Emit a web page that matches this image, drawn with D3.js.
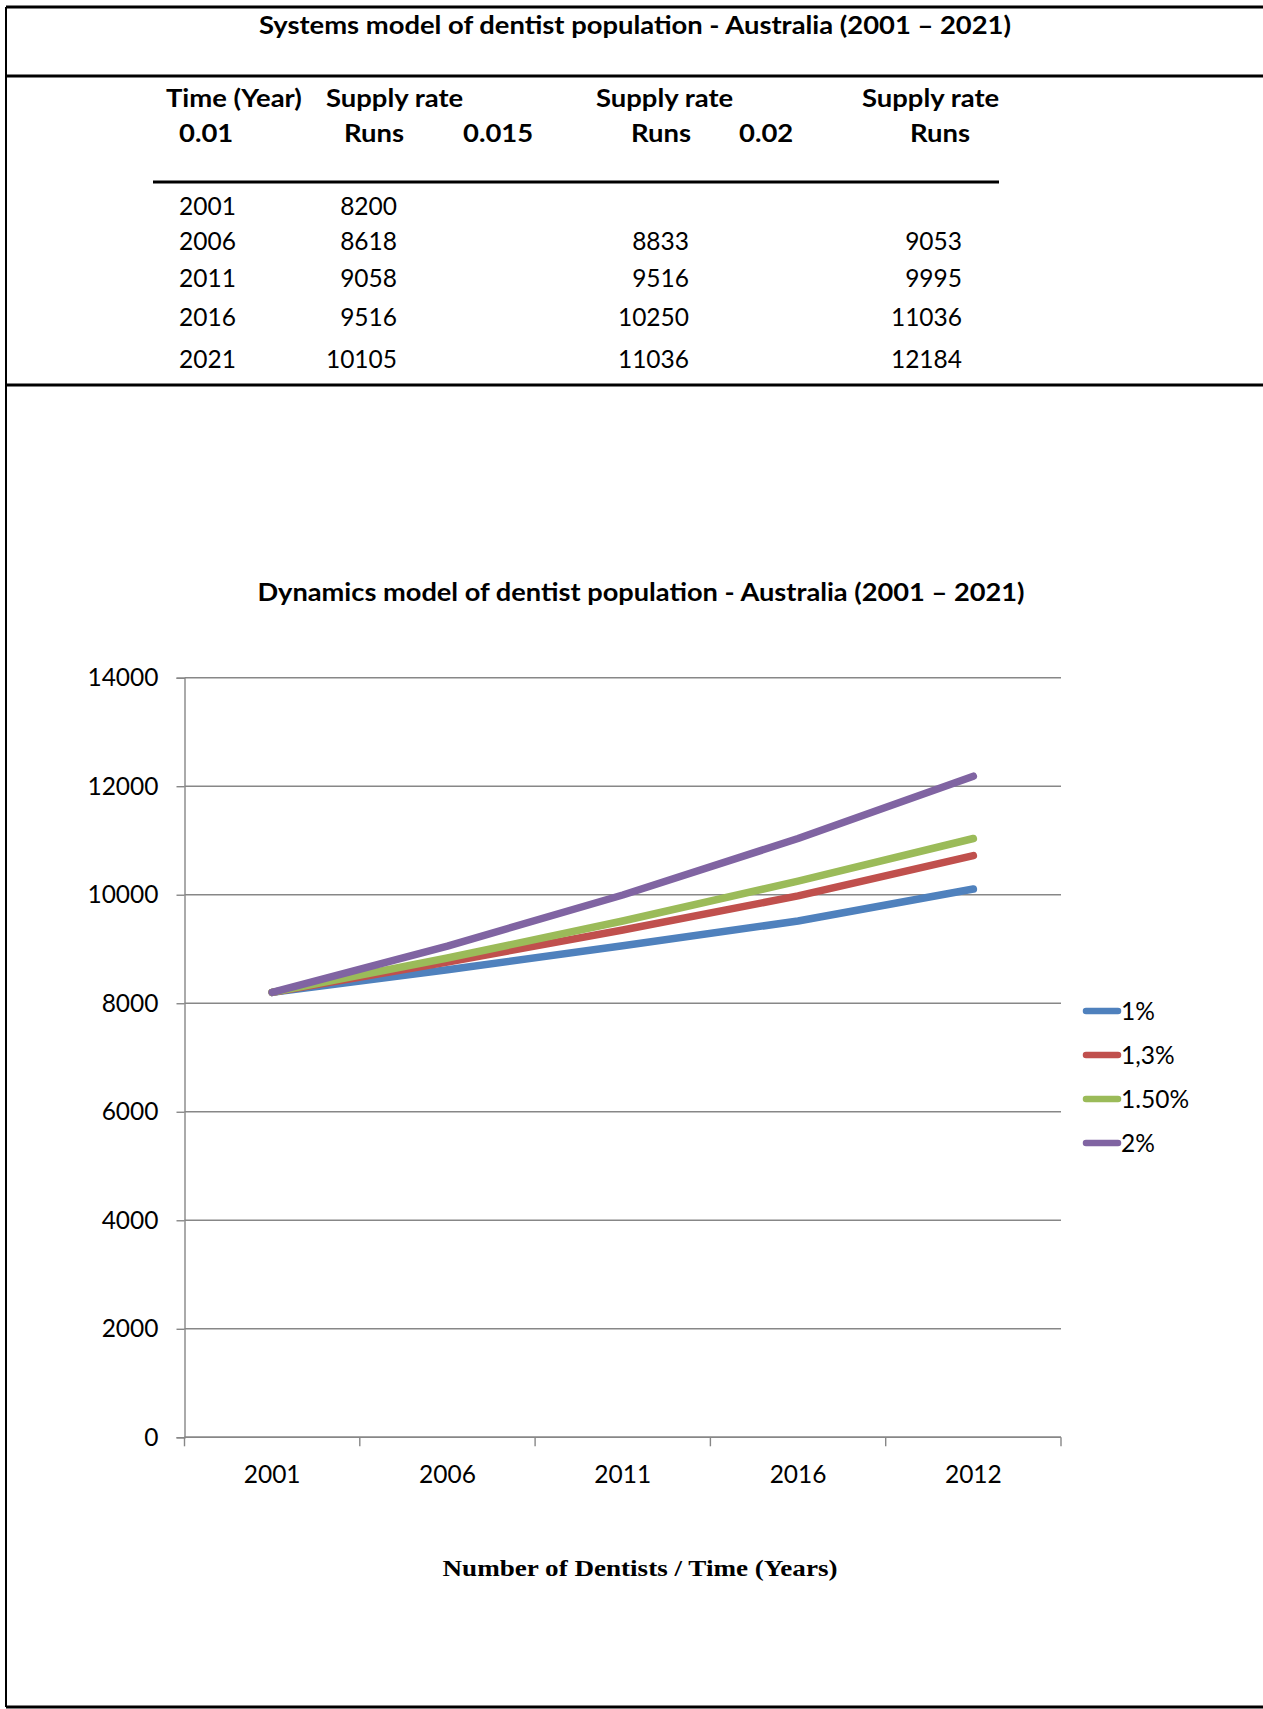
<!DOCTYPE html>
<html>
<head>
<meta charset="utf-8">
<script src="https://cdn.jsdelivr.net/npm/d3@7"></script>
<style>
  html, body { margin: 0; padding: 0; background: #fff; }
  svg { display: block; }
  .sans { font-family: Lato, "Open Sans", sans-serif; }
  .serif { font-family: "Liberation Serif", "DejaVu Serif", serif; }
</style>
</head>
<body>
<svg id="page" width="1263" height="1709"></svg>
<script>
// ---- Table data (systems model) ----
const tableYears = [2001, 2006, 2011, 2016, 2021];
const runs010 = [8200, 8618, 9058, 9516, 10105];
const runs015 = [null, 8833, 9516, 10250, 11036];
const runs020 = [null, 9053, 9995, 11036, 12184];

// ---- Chart data (dynamics model) ----
const categories = ["2001", "2006", "2011", "2016", "2012"];
const seriesNames = ["1%", "1,3%", "1.50%", "2%"];
const series1 = [8200, 8618, 9058, 9516, 10105];
const series13 = [8200, 8760, 9350, 9980, 10720];
const series15 = [8200, 8833, 9516, 10250, 11036];
const series2 = [8200, 9053, 9995, 11036, 12184];
const yTicks = [0, 2000, 4000, 6000, 8000, 10000, 12000, 14000];
const seriesColors = ["#4F81BD", "#C0504D", "#9BBB59", "#8064A2"];

const svg = d3.select("#page");

// horizontally widened text, anchored at (x, y)
function wideText(parent, x, y, str, sx, anchor) {
  return parent.append("text")
    .attr("transform", `translate(${x},${y}) scale(${sx},1)`)
    .attr("text-anchor", anchor || "start")
    .text(str);
}

// ---- Frame lines ----
const frame = svg.append("g").attr("stroke", "#000").attr("stroke-width", 3);
frame.append("line").attr("x1", 6).attr("x2", 1263).attr("y1", 7).attr("y2", 7);
frame.append("line").attr("x1", 6).attr("x2", 1263).attr("y1", 76).attr("y2", 76);
frame.append("line").attr("x1", 6).attr("x2", 1263).attr("y1", 385).attr("y2", 385);
frame.append("line").attr("x1", 6).attr("x2", 1263).attr("y1", 1707).attr("y2", 1707);
frame.append("line").attr("x1", 6).attr("x2", 6).attr("y1", 7).attr("y2", 1707).attr("stroke-width", 2);

// ---- Table ----
svg.append("text").attr("class", "sans")
  .attr("x", 635).attr("y", 34).attr("text-anchor", "middle")
  .attr("font-size", 24).attr("font-weight", 700)
  .attr("textLength", 752).attr("lengthAdjust", "spacingAndGlyphs")
  .text("Systems model of dentist population - Australia (2001 \u2013 2021)");

const header = svg.append("g").attr("class", "sans").attr("font-size", 24.5).attr("font-weight", 700);
[["Time (Year)", 166, 107], ["Supply rate", 326, 107], ["Supply rate", 596, 107], ["Supply rate", 862, 107],
 ["0.01", 179, 142], ["Runs", 344, 142], ["0.015", 463, 142], ["Runs", 631, 142], ["0.02", 739, 142], ["Runs", 910, 142]]
  .forEach(([t, x, y]) => wideText(header, x, y, t, 1.12));

svg.append("line").attr("x1", 153).attr("x2", 999).attr("y1", 182).attr("y2", 182)
  .attr("stroke", "#000").attr("stroke-width", 3);

const rowY = [215, 250, 287, 326, 368];
const body = svg.append("g").attr("class", "sans").attr("font-size", 24.5);
tableYears.forEach((yr, i) => {
  body.append("text").attr("x", 179).attr("y", rowY[i]).text(yr);
  [[runs010, 397], [runs015, 689], [runs020, 962]].forEach(([col, rx]) => {
    if (col[i] != null) {
      body.append("text").attr("x", rx).attr("y", rowY[i]).attr("text-anchor", "end").text(col[i]);
    }
  });
});

// ---- Chart ----
svg.append("text").attr("class", "sans")
  .attr("x", 641).attr("y", 601).attr("text-anchor", "middle")
  .attr("font-size", 24.5).attr("font-weight", 700)
  .attr("textLength", 767).attr("lengthAdjust", "spacingAndGlyphs")
  .text("Dynamics model of dentist population - Australia (2001 \u2013 2021)");

const plot = { left: 184.5, right: 1061, top: 677.7, bottom: 1437.3 };
const x = d3.scaleBand().domain(categories).range([plot.left, plot.right]);
const y = d3.scaleLinear().domain([0, 14000]).range([plot.bottom, plot.top]);

// gridlines
svg.append("g").selectAll("line").data(yTicks).join("line")
  .attr("x1", plot.left).attr("x2", plot.right)
  .attr("y1", d => y(d)).attr("y2", d => y(d))
  .attr("stroke", "#878787").attr("stroke-width", 1.4);

// y axis
const yAxis = svg.append("g").attr("transform", `translate(${plot.left},0)`)
  .call(d3.axisLeft(y).tickValues(yTicks).tickSize(8).tickPadding(18).tickFormat(d3.format("d")));
yAxis.select(".domain").attr("stroke", "#878787").attr("stroke-width", 1.4);
yAxis.selectAll(".tick line").attr("stroke", "#878787").attr("stroke-width", 1.4);
yAxis.selectAll("text").attr("font-size", 24.5).attr("fill", "#000")
  .attr("font-family", "Lato, 'Open Sans', sans-serif");

// x axis (ticks at band boundaries)
const xAxisG = svg.append("g").attr("transform", `translate(0,${plot.bottom})`);
xAxisG.append("line").attr("x1", plot.left).attr("x2", plot.right)
  .attr("stroke", "#878787").attr("stroke-width", 1.4);
const boundaries = categories.map(c => x(c)).concat([plot.right]);
xAxisG.selectAll("line.tk").data(boundaries).join("line").attr("class", "tk")
  .attr("x1", d => d).attr("x2", d => d).attr("y1", 0).attr("y2", 9)
  .attr("stroke", "#878787").attr("stroke-width", 1.4);
xAxisG.selectAll("text").data(categories).join("text")
  .attr("class", "sans").attr("font-size", 24.5).attr("fill", "#000")
  .attr("x", d => x(d) + x.bandwidth() / 2).attr("y", 46).attr("text-anchor", "middle")
  .text(d => d);

// series lines
const allSeries = [series1, series13, series15, series2];
const line = d3.line()
  .x((d, i) => x(categories[i]) + x.bandwidth() / 2)
  .y(d => y(d));
svg.append("g").selectAll("path").data(allSeries).join("path")
  .attr("d", d => line(d))
  .attr("fill", "none")
  .attr("stroke", (d, i) => seriesColors[i])
  .attr("stroke-width", 7.5)
  .attr("stroke-linecap", "round")
  .attr("stroke-linejoin", "round");

// legend
const legend = svg.append("g").attr("transform", "translate(1086,1011)");
seriesNames.forEach((name, i) => {
  const g = legend.append("g").attr("transform", `translate(0,${i * 44})`);
  g.append("line").attr("x1", 0).attr("x2", 32).attr("y1", 0).attr("y2", 0)
    .attr("stroke", seriesColors[i]).attr("stroke-width", 6.5).attr("stroke-linecap", "round");
  g.append("text").attr("class", "sans").attr("x", 35).attr("y", 9)
    .attr("font-size", 24.5).attr("fill", "#000").text(name);
});

// x axis title
svg.append("text").attr("class", "serif")
  .attr("x", 640).attr("y", 1576).attr("text-anchor", "middle")
  .attr("font-size", 24).attr("font-weight", 700)
  .attr("textLength", 395).attr("lengthAdjust", "spacingAndGlyphs")
  .text("Number of Dentists / Time (Years)");
</script>
</body>
</html>
